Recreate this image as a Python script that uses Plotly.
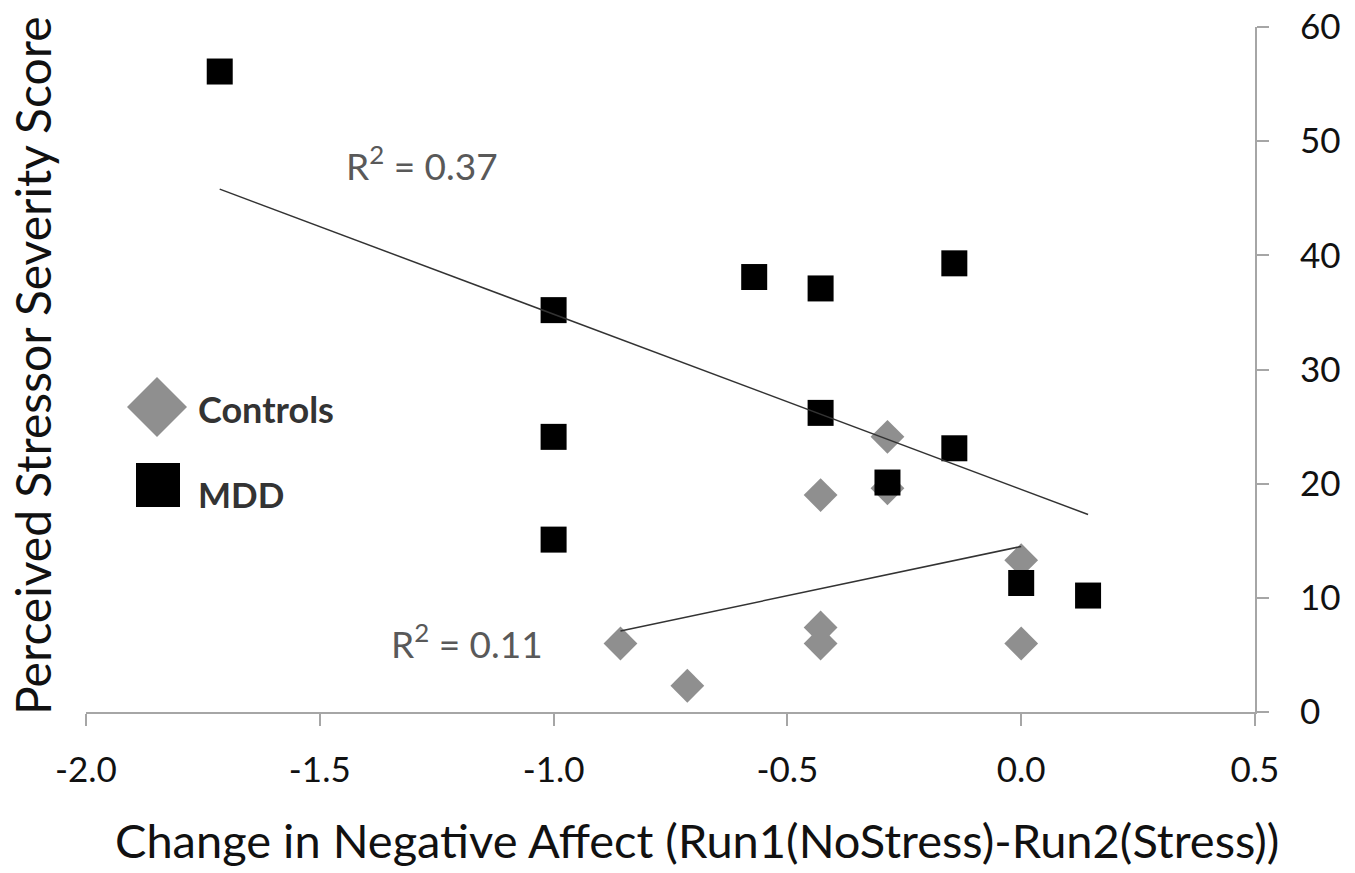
import plotly.graph_objects as go

# ---- data ----
mdd_x = [-1.714, -1.0, -1.0, -1.0, -0.571, -0.429, -0.429, -0.286, -0.143, -0.143, 0.0, 0.143]
mdd_y = [56.1, 35.2, 24.1, 15.1, 38.1, 37.1, 26.2, 20.1, 39.3, 23.1, 11.3, 10.2]

ctrl_x = [-0.857, -0.714, -0.429, -0.429, -0.429, -0.286, -0.286, 0.0, 0.0]
ctrl_y = [6.0, 2.3, 19.0, 7.4, 6.0, 24.1, 19.6, 13.3, 6.0]

mdd_fit_x = [-1.714, 0.143]
mdd_fit_y = [45.8, 17.3]
ctrl_fit_x = [-0.857, 0.0]
ctrl_fit_y = [7.1, 14.5]

x_ticks = [-2.0, -1.5, -1.0, -0.5, 0.0, 0.5]
x_tick_labels = ["-2.0", "-1.5", "-1.0", "-0.5", "0.0", "0.5"]
y_ticks = [0, 10, 20, 30, 40, 50, 60]

FONT = "Lato"
TXT = "#111111"
GRAY_MARK = "#8f8f8f"
AXIS = "#a6a6a6"

fig = go.Figure()
fig.add_trace(go.Scatter(x=ctrl_x, y=ctrl_y, mode="markers", name="Controls",
                         marker=dict(symbol="diamond", size=26, color=GRAY_MARK, line=dict(width=0))))
fig.add_trace(go.Scatter(x=mdd_x, y=mdd_y, mode="markers", name="MDD",
                         marker=dict(symbol="square", size=26, color="#000000", line=dict(width=0))))
fig.add_trace(go.Scatter(x=mdd_fit_x, y=mdd_fit_y, mode="lines", showlegend=False,
                         line=dict(color="#333333", width=1.5)))
fig.add_trace(go.Scatter(x=ctrl_fit_x, y=ctrl_fit_y, mode="lines", showlegend=False,
                         line=dict(color="#333333", width=1.5)))

W, H = 1355, 873
L, R, T, B = 86, 100, 27, 161
PW, PH = W - L - R, H - T - B

def px(X):
    return (X - L) / PW

def py(Y):
    return (H - B - Y) / PH

fig.update_layout(
    width=W, height=H,
    margin=dict(l=L, r=R, t=T, b=B, autoexpand=False),
    paper_bgcolor="white", plot_bgcolor="white",
    showlegend=False,
    font=dict(family=FONT, color=TXT),
    xaxis=dict(range=[-2.0, 0.5], tickvals=x_ticks, ticktext=x_tick_labels, automargin=False,
               showgrid=False, zeroline=False, showline=True, linecolor=AXIS, linewidth=2,
               ticks="outside", ticklen=12, tickcolor=AXIS, tickwidth=2,
               tickfont=dict(size=35, color=TXT), ticklabelstandoff=14),
    yaxis=dict(range=[0, 60], tickvals=y_ticks, side="right", automargin=False,
               showgrid=False, zeroline=False, showline=True, linecolor=AXIS, linewidth=2,
               ticks="outside", ticklen=12, tickcolor=AXIS, tickwidth=2,
               tickfont=dict(size=35, color=TXT), ticklabelstandoff=24),
)

annotations = [
    dict(text="Change in Negative Affect (Run1(NoStress)-Run2(Stress))", x=px(697), y=py(840),
         xref="paper", yref="paper", showarrow=False, font=dict(size=47, color=TXT),
         xanchor="center", yanchor="middle"),
    dict(text="Perceived Stressor Severity Score", x=px(32), y=py(366),
         xref="paper", yref="paper", showarrow=False, textangle=-90,
         font=dict(size=48, color=TXT), xanchor="center", yanchor="middle"),
    dict(text="R<sup>2</sup> = 0.37", x=px(422), y=py(163), xref="paper", yref="paper",
         showarrow=False, font=dict(size=37, color="#595959"), xanchor="center", yanchor="middle"),
    dict(text="R<sup>2</sup> = 0.11", x=px(467), y=py(641), xref="paper", yref="paper",
         showarrow=False, font=dict(size=37, color="#595959"), xanchor="center", yanchor="middle"),
    dict(text="<b>Controls</b>", x=px(196), y=py(409), xref="paper", yref="paper",
         showarrow=False, font=dict(size=36, color="#333333"), xanchor="left", yanchor="middle"),
    dict(text="<b>MDD</b>", x=px(196), y=py(494), xref="paper", yref="paper",
         showarrow=False, font=dict(size=35, color="#333333"), xanchor="left", yanchor="middle"),
]
fig.update_layout(annotations=annotations)

shapes = [
    dict(type="path", xref="paper", yref="paper", xsizemode="pixel", ysizemode="pixel",
         xanchor=px(157), yanchor=py(407),
         path="M 0,30 L 30,0 L 0,-30 L -30,0 Z", fillcolor=GRAY_MARK, line=dict(width=0)),
    dict(type="path", xref="paper", yref="paper", xsizemode="pixel", ysizemode="pixel",
         xanchor=px(158), yanchor=py(485),
         path="M -22,-22 L 22,-22 L 22,22 L -22,22 Z", fillcolor="#000000", line=dict(width=0)),
]
fig.update_layout(shapes=shapes)

fig.write_html("out.html")
